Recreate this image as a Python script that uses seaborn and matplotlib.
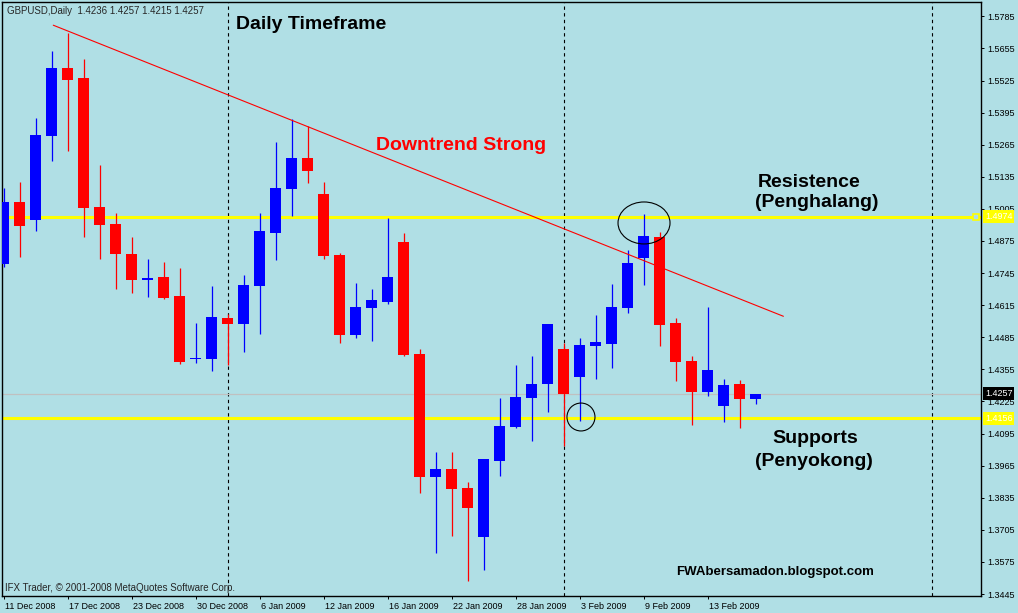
import matplotlib
matplotlib.use("Agg")
import matplotlib.pyplot as plt
import matplotlib.transforms as mtrans
from matplotlib.patches import Ellipse
import pandas as pd
import seaborn as sns

# GBPUSD daily candles, 11 Dec 2008 -> 18 Feb 2009
opens = [1.4782, 1.5033, 1.4960, 1.5300, 1.5576, 1.5535, 1.5013, 1.4944, 1.4822, 1.4717,
         1.4729, 1.4652, 1.4397, 1.4397, 1.4563, 1.4539, 1.4693, 1.4907, 1.5086, 1.5211,
         1.5065, 1.4818, 1.4494, 1.4604, 1.4628, 1.4871, 1.4417, 1.3919, 1.3952, 1.3875,
         1.3676, 1.3984, 1.4122, 1.4239, 1.4296, 1.4438, 1.4325, 1.4450, 1.4458, 1.4604,
         1.4806, 1.4891, 1.4543, 1.4389, 1.4263, 1.4207, 1.4296, 1.4236]
highs = [1.5090, 1.5114, 1.5373, 1.5644, 1.5717, 1.5612, 1.5183, 1.4988, 1.4891, 1.4802,
         1.4790, 1.4766, 1.4543, 1.4693, 1.4579, 1.4737, 1.4988, 1.5276, 1.5369, 1.5341,
         1.5114, 1.4826, 1.4705, 1.4681, 1.4968, 1.4907, 1.4438, 1.4020, 1.4020, 1.3899,
         1.3992, 1.4239, 1.4373, 1.4409, 1.4539, 1.4462, 1.4482, 1.4575, 1.4701, 1.4839,
         1.4984, 1.4911, 1.4563, 1.4409, 1.4608, 1.4316, 1.4312, 1.4257]
lows = [1.4770, 1.4810, 1.4916, 1.5199, 1.5240, 1.4891, 1.4802, 1.4681, 1.4664, 1.4648,
        1.4640, 1.4377, 1.4381, 1.4349, 1.4373, 1.4425, 1.4498, 1.4798, 1.4976, 1.5110,
        1.4802, 1.4462, 1.4482, 1.4470, 1.4620, 1.4409, 1.3854, 1.3611, 1.3680, 1.3498,
        1.3543, 1.3923, 1.4118, 1.4065, 1.4182, 1.4045, 1.4146, 1.4316, 1.4361, 1.4583,
        1.4697, 1.4450, 1.4308, 1.4130, 1.4247, 1.4142, 1.4118, 1.4215]
closes = [1.5033, 1.4936, 1.5304, 1.5576, 1.5527, 1.5009, 1.4940, 1.4822, 1.4717, 1.4725,
          1.4644, 1.4385, 1.4401, 1.4567, 1.4539, 1.4697, 1.4916, 1.5090, 1.5211, 1.5159,
          1.4814, 1.4494, 1.4608, 1.4636, 1.4729, 1.4413, 1.3919, 1.3952, 1.3871, 1.3794,
          1.3992, 1.4126, 1.4243, 1.4296, 1.4539, 1.4255, 1.4454, 1.4466, 1.4608, 1.4786,
          1.4895, 1.4535, 1.4385, 1.4263, 1.4352, 1.4292, 1.4234, 1.4257]

date_labels = ["11 Dec 2008", "17 Dec 2008", "23 Dec 2008", "30 Dec 2008", "6 Jan 2009",
               "12 Jan 2009", "16 Jan 2009", "22 Jan 2009", "28 Jan 2009", "3 Feb 2009",
               "9 Feb 2009", "13 Feb 2009"]
date_bars = [0, 4, 8, 12, 16, 20, 24, 28, 32, 36, 40, 44]
month_separators = [14, 35, 58]
price_ticks = [1.5785, 1.5655, 1.5525, 1.5395, 1.5265, 1.5135, 1.5005, 1.4875, 1.4745,
               1.4615, 1.4485, 1.4355, 1.4225, 1.4095, 1.3965, 1.3835, 1.3705, 1.3575, 1.3445]

resistance = 1.4974
support = 1.4156
bid = 1.4257
trend_x = [3.11, 48.74]
trend_y = [1.5749, 1.4570]

df = pd.DataFrame({"open": opens, "high": highs, "low": lows, "close": closes})
df["bar"] = range(len(df))
df["bull"] = df["close"] >= df["open"]
df["colour"] = df["bull"].map({True: "#0000FF", False: "#FF0000"})
df["body_lo"] = df[["open", "close"]].min(axis=1)
df["body_h"] = (df["close"] - df["open"]).abs().clip(lower=0.0004)

sns.set_theme(style="ticks")
plt.rcParams["font.family"] = ["Liberation Sans", "DejaVu Sans"]

bg = "#B0DFE5"
fig = plt.figure(figsize=(10.18, 6.13), dpi=100, facecolor=bg)
ax = fig.add_axes([2 / 1018, 17 / 613, 979 / 1018, 594 / 613])
ax.set_facecolor(bg)

# separators, levels
for xs in month_separators:
    ax.axvline(xs, color="black", lw=0.8, ls=(0, (3, 3)), zorder=1)
ax.axhline(bid, color="#C0C0C0", lw=0.9, zorder=1)
ax.axhline(resistance, color="#FFFF00", lw=2.2, zorder=1)
ax.axhline(support, color="#FFFF00", lw=2.2, zorder=1)
blend = mtrans.blended_transform_factory(ax.transAxes, ax.transData)
ax.plot([0.003, 0.995], [resistance, resistance], ls="none", marker="s", ms=4,
        mfc=bg, mec="#FFFF00", mew=1.2, transform=blend, zorder=2)

# candles
ax.vlines(df["bar"], df["low"], df["high"], colors=df["colour"], lw=0.9, zorder=3)
ax.bar(df["bar"], df["body_h"], bottom=df["body_lo"], width=0.7,
       color=df["colour"], linewidth=0, zorder=4)

# trend line + circles
sns.lineplot(x=trend_x, y=trend_y, ax=ax, color="#FF0000", lw=0.8, zorder=5)
ax.add_patch(Ellipse((40.03, 1.4948), 3.25, 0.0170, fill=False, ec="black", lw=0.8, zorder=6))
ax.add_patch(Ellipse((36.09, 1.4162), 1.75, 0.0113, fill=False, ec="black", lw=0.8, zorder=6))

# annotations
big = dict(fontsize=14, fontweight="bold", va="baseline", ha="left", zorder=7)
ax.text(14.53, 1.5732, "Daily Timeframe", color="black", **big)
ax.text(23.28, 1.5244, "Downtrend Strong", color="#FF0000", **big)
ax.text(47.16, 1.5094, "Resistence", color="black", **big)
ax.text(46.97, 1.5013, "(Penghalang)", color="black", **big)
ax.text(48.03, 1.4057, "Supports", color="black", **big)
ax.text(46.97, 1.3964, "(Penyokong)", color="black", **big)
ax.text(42.03, 1.3522, "FWAbersamadon.blogspot.com", color="black", fontsize=9.5,
        fontweight="bold", va="baseline", ha="left", zorder=7)

ax.text(0.005, 0.979, "GBPUSD,Daily  1.4236 1.4257 1.4215 1.4257", transform=ax.transAxes,
        fontsize=7, va="baseline", ha="left")
ax.text(0.003, 0.0084, "IFX Trader, \u00a9 2001-2008 MetaQuotes Software Corp.",
        transform=ax.transAxes, fontsize=7, va="baseline", ha="left")

# right-hand price labels
ax.text(1.0041, resistance, f"{resistance:.4f}", transform=blend, fontsize=6.5, color="white",
        va="center", ha="left", bbox=dict(fc="#FFFF00", ec="none", pad=1.2), clip_on=False)
ax.text(1.0041, support, f"{support:.4f}", transform=blend, fontsize=6.5, color="white",
        va="center", ha="left", bbox=dict(fc="#FFFF00", ec="none", pad=1.2), clip_on=False)
ax.text(1.0041, bid, f"{bid:.4f}", transform=blend, fontsize=6.5, color="white",
        va="center", ha="left", bbox=dict(fc="black", ec="none", pad=1.2), clip_on=False)

ax.set_xlim(-0.094, 61.09)
ax.set_ylim(1.3437, 1.5843)
ax.set_xticks(date_bars)
ax.set_xticklabels(date_labels, fontsize=6.5)
ax.set_yticks(price_ticks)
ax.set_yticklabels([f"{p:.4f}" for p in price_ticks], fontsize=6.5)
ax.yaxis.tick_right()
ax.tick_params(axis="x", direction="out", length=2.5, width=0.7, pad=2, colors="black")
ax.tick_params(axis="y", direction="out", length=2, width=0.7, pad=2.5, colors="black")
offset = mtrans.ScaledTranslation(1.5 / 100, 0, fig.dpi_scale_trans)
for lab in ax.get_xticklabels():
    lab.set_horizontalalignment("left")
    lab.set_transform(lab.get_transform() + offset)
for s in ax.spines.values():
    s.set_color("black")
    s.set_linewidth(1.0)
ax.set_xlabel("")
ax.set_ylabel("")
if ax.get_legend():
    ax.get_legend().remove()

fig.savefig("out.png", dpi=100, facecolor=bg)
